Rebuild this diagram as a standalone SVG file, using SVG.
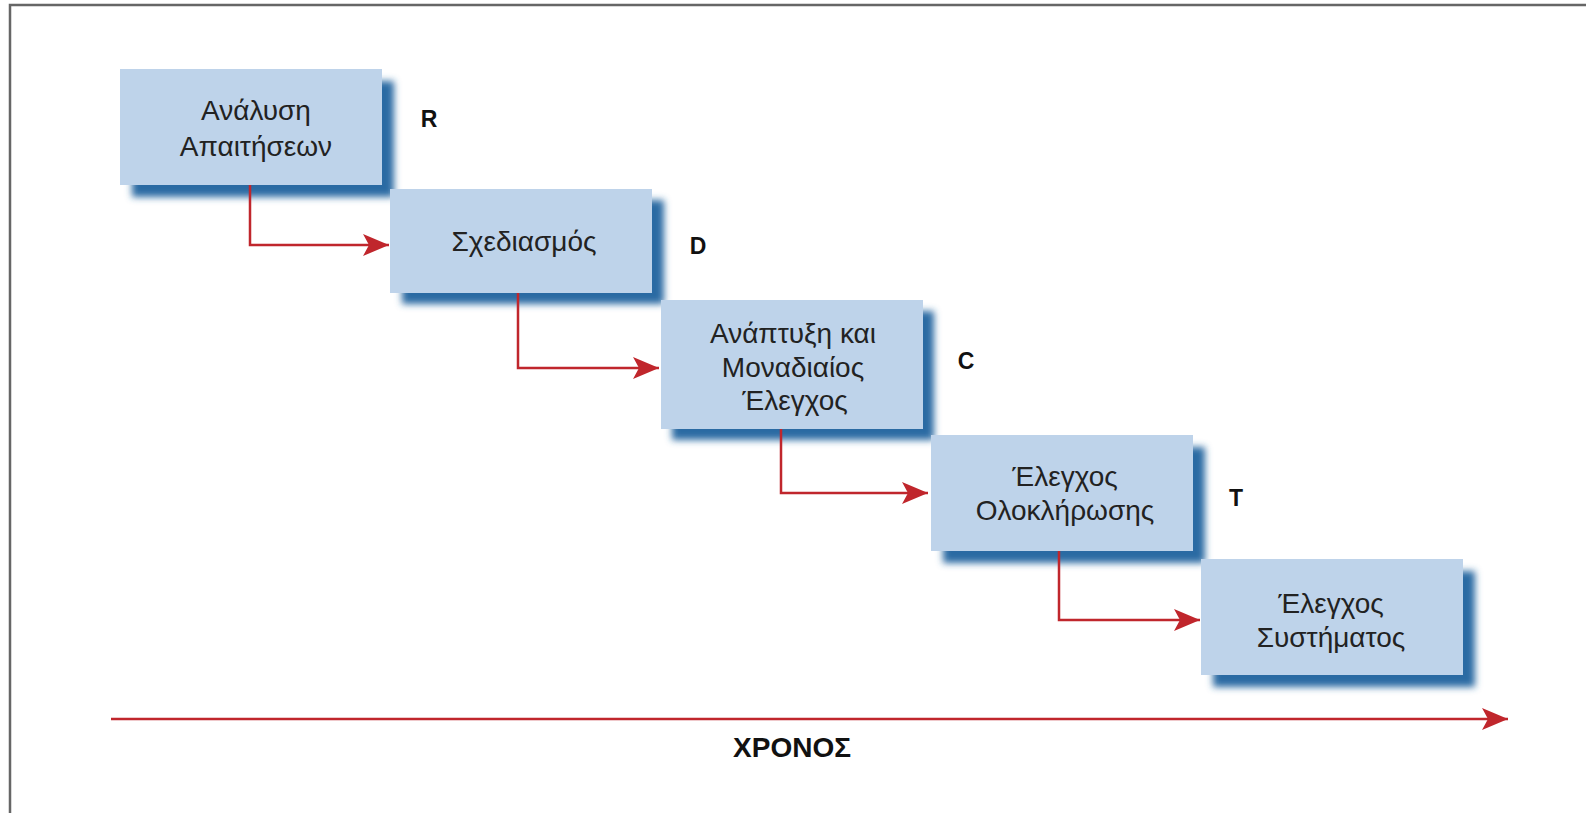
<svg xmlns="http://www.w3.org/2000/svg" width="1586" height="813" viewBox="0 0 1586 813">
<style>
.box{fill:#bed3ea;}
.shadow{fill:#2a6aa3;filter:url(#blur);}
.lbl{font-family:"Liberation Sans",Arial,sans-serif;font-size:28px;fill:#222;text-anchor:middle;}
.tag{font-family:"Liberation Sans",Arial,sans-serif;font-size:23px;font-weight:bold;fill:#111;text-anchor:middle;}
.conn{fill:none;stroke:#c0262c;stroke-width:2.5;}
.head{fill:#c0262c;}
</style>
<defs>
<filter id="blur" x="-10%" y="-10%" width="120%" height="130%"><feGaussianBlur stdDeviation="3.5"/></filter>
<marker id="arr" markerUnits="userSpaceOnUse" markerWidth="28" markerHeight="24" refX="26" refY="12" orient="auto">
<path class="head" d="M0,1 L26,12 L0,23 L6,12 Z"/>
</marker>
</defs>
<rect x="0" y="0" width="1586" height="813" fill="#fff"/>
<path d="M10,813 L10,5 L1586,5" fill="none" stroke="#666" stroke-width="2.5"/>

<g id="node-requirements">
<rect class="shadow" x="132" y="81" width="262" height="116"/>
<rect class="box" x="120" y="69" width="262" height="116"/>
<text class="lbl" x="256" y="120">Ανάλυση</text>
<text class="lbl" x="256" y="156">Απαιτήσεων</text>
</g>
<g id="node-design">
<rect class="shadow" x="402" y="200" width="262" height="104"/>
<rect class="box" x="390" y="189" width="262" height="104"/>
<text class="lbl" x="524" y="251">Σχεδιασμός</text>
</g>
<g id="node-coding">
<rect class="shadow" x="672" y="311" width="262" height="129"/>
<rect class="box" x="661" y="300" width="262" height="129"/>
<text class="lbl" x="793" y="343">Ανάπτυξη και</text>
<text class="lbl" x="793" y="377">Μοναδιαίος</text>
<text class="lbl" x="795" y="410">Έλεγχος</text>
</g>
<g id="node-integration">
<rect class="shadow" x="943" y="447" width="262" height="116"/>
<rect class="box" x="931" y="435" width="262" height="116"/>
<text class="lbl" x="1065" y="486">Έλεγχος</text>
<text class="lbl" x="1065" y="520">Ολοκλήρωσης</text>
</g>
<g id="node-system">
<rect class="shadow" x="1213" y="571" width="262" height="116"/>
<rect class="box" x="1201" y="559" width="262" height="116"/>
<text class="lbl" x="1331" y="613">Έλεγχος</text>
<text class="lbl" x="1331" y="647">Συστήματος</text>
</g>

<g id="tags">
<text class="tag" x="429" y="127">R</text>
<text class="tag" x="698" y="254">D</text>
<text class="tag" x="966" y="369">C</text>
<text class="tag" x="1236" y="506">T</text>
</g>

<g id="connectors">
<path class="conn" d="M250,185 L250,245 L389,245" marker-end="url(#arr)"/>
<path class="conn" d="M518,293 L518,368 L659,368" marker-end="url(#arr)"/>
<path class="conn" d="M781,429 L781,493 L928,493" marker-end="url(#arr)"/>
<path class="conn" d="M1059,551 L1059,620 L1200,620" marker-end="url(#arr)"/>
<path class="conn" d="M111,719 L1508,719" stroke-width="4" marker-end="url(#arr)"/>
</g>

<g id="axis-label">
<text x="792" y="757" font-family="'Liberation Sans',Arial,sans-serif" font-size="28" font-weight="bold" fill="#111" text-anchor="middle">ΧΡΟΝΟΣ</text>
</g>
</svg>
